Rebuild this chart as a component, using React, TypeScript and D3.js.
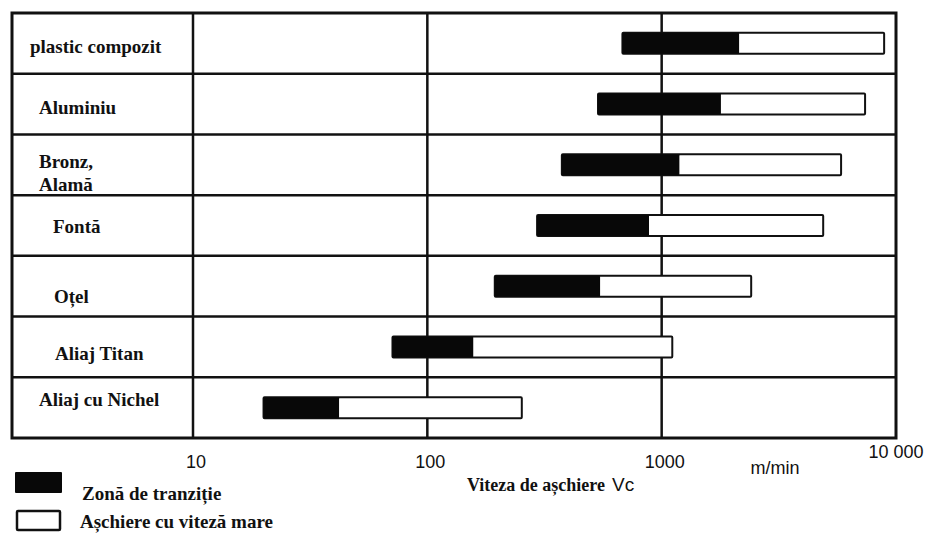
import React from 'react';
import * as d3 from 'd3';

// materiale (randuri, de sus in jos)
const materials = ['plastic compozit', 'Aluminiu', 'Bronz,|Alamă', 'Fontă', 'Oțel', 'Aliaj Titan', 'Aliaj cu Nichel'];
// viteza de aschiere Vc, m/min
const transitionStart = [680, 535, 375, 294, 194, 71, 20];
const highSpeedStart = [2140, 1790, 1190, 883, 546, 157, 42];
const highSpeedEnd = [8900, 7380, 5830, 4890, 2410, 1110, 253];

const tickValues = [10, 100, 1000, 10000];
const tickLabels = ['10', '100', '1000', '10 000'];

const legendLabels = ['Zonă de tranziție', 'Așchiere cu viteză mare'];

// asezarea etichetelor in coloana din stanga (indent, baseline fata de rand)
const labelIndent = [18, 27, 27, 41, 42, 43, 27];
const labelBaseline = [40, 40, 34, 38, 47, 43, 29];

const W = 928;
const H = 533;
const frame = { left: 12, right: 896, top: 13, bottom: 438 };
const colDivider = 193;

const serif = '"Liberation Serif", "Times New Roman", serif';
const sans = '"Liberation Sans", Arial, sans-serif';
const ink = '#111';

const App: React.FC = () => {
  const x = d3.scaleLog().domain([10, 10000]).range([colDivider, frame.right]);
  const y = d3.scaleBand<string>().domain(materials).range([frame.top, frame.bottom]).padding(0);
  const barH = 21;

  return (
    <svg width={W} height={H} style={{ position: 'absolute', left: 0, top: 0, background: '#fff' }}>
      <rect x={0} y={0} width={W} height={H} fill="#fff" />

      {/* grid: row lines */}
      {materials.slice(1).map(m => (
        <line key={'r' + m} x1={frame.left} x2={frame.right} y1={y(m)!} y2={y(m)!} stroke={ink} strokeWidth={2.5} />
      ))}
      {/* vertical lines at decades */}
      {tickValues.slice(1, 3).map(v => (
        <line key={'v' + v} x1={x(v)} x2={x(v)} y1={frame.top} y2={frame.bottom} stroke={ink} strokeWidth={2.5} />
      ))}
      <line x1={colDivider} x2={colDivider} y1={frame.top} y2={frame.bottom} stroke={ink} strokeWidth={2.5} />

      {/* bars */}
      {materials.map((m, i) => {
        const cy = y(m)! + y.bandwidth() / 2;
        const x0 = x(transitionStart[i]);
        const x1 = x(highSpeedStart[i]);
        const x2 = x(highSpeedEnd[i]);
        return (
          <g key={'b' + m}>
            <rect x={x0} y={cy - barH / 2} width={x2 - x0} height={barH} fill="#fff" stroke={ink} strokeWidth={2} rx={1} />
            <rect x={x0} y={cy - barH / 2} width={x1 - x0} height={barH} fill="#080808" rx={1} />
          </g>
        );
      })}

      <rect x={frame.left} y={frame.top} width={frame.right - frame.left} height={frame.bottom - frame.top}
        fill="none" stroke={ink} strokeWidth={3} />

      {/* material labels */}
      {materials.map((m, i) => (
        <text key={'l' + m} x={frame.left + labelIndent[i]} y={y(m)! + labelBaseline[i]}
          fontFamily={serif} fontWeight="bold" fontSize={19} fill={ink}>
          {m.split('|').map((line, j) => (
            <tspan key={j} x={frame.left + labelIndent[i]} dy={j === 0 ? 0 : 23}>{line}</tspan>
          ))}
        </text>
      ))}

      {/* axis labels */}
      {tickValues.map((v, i) => (
        <text key={'t' + v} x={x(v) + (i === 3 ? 0 : 3)} y={i === 3 ? 458 : 468} textAnchor="middle"
          fontFamily={sans} fontSize={18} fill={ink}>{tickLabels[i]}</text>
      ))}
      <text x={775} y={474} textAnchor="middle" fontFamily={sans} fontSize={18} fill={ink}>m/min</text>
      <text x={467} y={491} fontFamily={serif} fontWeight="bold" fontSize={18} fill={ink}>
        Viteza de așchiere
        <tspan fontFamily={sans} fontWeight="normal" fontSize={19} dx={7}>Vc</tspan>
      </text>

      {/* legend */}
      <rect x={15} y={472} width={47} height={21} fill="#080808" rx={1} />
      <text x={82} y={500} fontFamily={serif} fontWeight="bold" fontSize={19} fill={ink}>{legendLabels[0]}</text>
      <rect x={17} y={511} width={43} height={19} fill="#fff" stroke={ink} strokeWidth={2.5} rx={1} />
      <text x={80} y={528} fontFamily={serif} fontWeight="bold" fontSize={19} fill={ink}>{legendLabels[1]}</text>
    </svg>
  );
};

export default App;
